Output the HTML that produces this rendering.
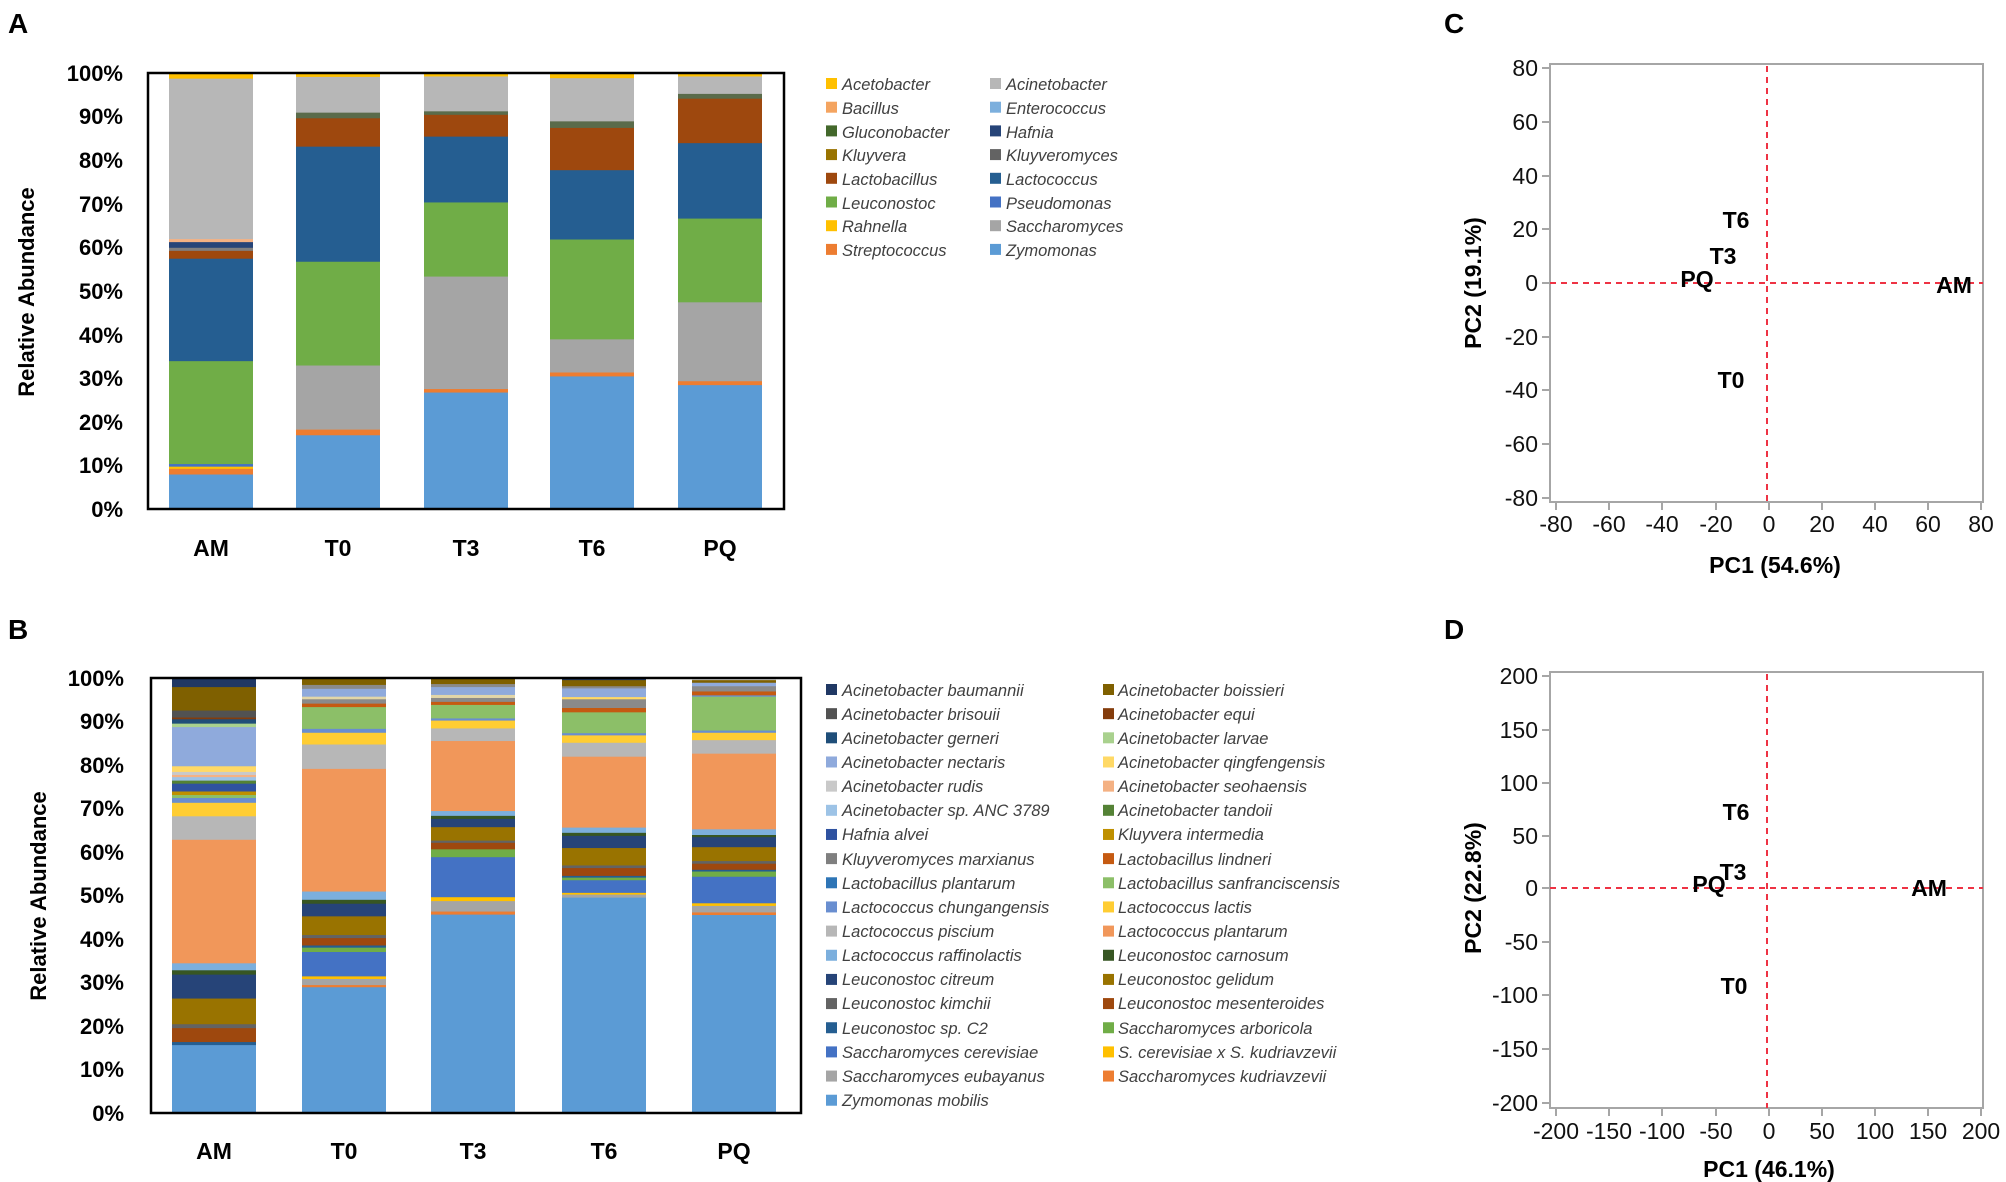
<!DOCTYPE html>
<html><head><meta charset="utf-8"><style>
html,body{margin:0;padding:0;background:#fff}
svg{display:block}
text{font-family:"Liberation Sans",sans-serif}
.b{font-weight:bold}
.lg{font-style:italic;fill:#404040;font-size:16.5px}
.tk{font-size:23px;fill:#111}
</style></head><body>
<svg id="s" width="2006" height="1182" viewBox="0 0 2006 1182" xmlns="http://www.w3.org/2000/svg">
<rect width="2006" height="1182" fill="#fff"/>
<g id="barsA"></g><g id="barsB"></g>
<!-- Panel A -->
<text x="8" y="33" class="b" font-size="28">A</text>
<rect x="148" y="73" width="636" height="436" fill="none" stroke="#000" stroke-width="2.5"/>
<g class="b" font-size="22" text-anchor="end">
<text x="123" y="517">0%</text><text x="123" y="473">10%</text><text x="123" y="430">20%</text><text x="123" y="386">30%</text><text x="123" y="343">40%</text><text x="123" y="299">50%</text><text x="123" y="255">60%</text><text x="123" y="212">70%</text><text x="123" y="168">80%</text><text x="123" y="124">90%</text><text x="123" y="81">100%</text>
</g>
<g class="b" font-size="23" text-anchor="middle">
<text x="211" y="556">AM</text><text x="338" y="556">T0</text><text x="466" y="556">T3</text><text x="592" y="556">T6</text><text x="720" y="556">PQ</text>
</g>
<text class="b" font-size="22" text-anchor="middle" transform="translate(34,292) rotate(-90)">Relative Abundance</text>
<!-- Legend A -->
<g id="legA"></g>
<!-- Panel B -->
<text x="8" y="639" class="b" font-size="28">B</text>
<rect x="151" y="678" width="650" height="435" fill="none" stroke="#000" stroke-width="2.5"/>
<g class="b" font-size="22" text-anchor="end">
<text x="124" y="1121">0%</text><text x="124" y="1077">10%</text><text x="124" y="1034">20%</text><text x="124" y="990">30%</text><text x="124" y="947">40%</text><text x="124" y="903">50%</text><text x="124" y="860">60%</text><text x="124" y="816">70%</text><text x="124" y="773">80%</text><text x="124" y="729">90%</text><text x="124" y="686">100%</text>
</g>
<g class="b" font-size="23" text-anchor="middle">
<text x="214" y="1159">AM</text><text x="344" y="1159">T0</text><text x="473" y="1159">T3</text><text x="604" y="1159">T6</text><text x="734" y="1159">PQ</text>
</g>
<text class="b" font-size="22" text-anchor="middle" transform="translate(46,896) rotate(-90)">Relative Abundance</text>
<g id="legB"></g>

<!-- Panel C -->
<text x="1444" y="33" class="b" font-size="28">C</text>
<rect x="1550" y="64" width="433" height="438" fill="none" stroke="#a6a6a6" stroke-width="2"/>
<g stroke="#a6a6a6" stroke-width="2">
<line x1="1542" y1="68" x2="1550" y2="68"/><line x1="1542" y1="122" x2="1550" y2="122"/><line x1="1542" y1="176" x2="1550" y2="176"/><line x1="1542" y1="229" x2="1550" y2="229"/><line x1="1542" y1="283" x2="1550" y2="283"/><line x1="1542" y1="337" x2="1550" y2="337"/><line x1="1542" y1="390" x2="1550" y2="390"/><line x1="1542" y1="444" x2="1550" y2="444"/><line x1="1542" y1="498" x2="1550" y2="498"/>
<line x1="1556" y1="502" x2="1556" y2="510"/><line x1="1609" y1="502" x2="1609" y2="510"/><line x1="1662" y1="502" x2="1662" y2="510"/><line x1="1716" y1="502" x2="1716" y2="510"/><line x1="1769" y1="502" x2="1769" y2="510"/><line x1="1822" y1="502" x2="1822" y2="510"/><line x1="1875" y1="502" x2="1875" y2="510"/><line x1="1928" y1="502" x2="1928" y2="510"/><line x1="1981" y1="502" x2="1981" y2="510"/>
</g>
<g class="tk" text-anchor="end">
<text x="1538" y="76">80</text><text x="1538" y="130">60</text><text x="1538" y="184">40</text><text x="1538" y="237">20</text><text x="1538" y="291">0</text><text x="1538" y="345">-20</text><text x="1538" y="398">-40</text><text x="1538" y="452">-60</text><text x="1538" y="506">-80</text>
</g>
<g class="tk" text-anchor="middle">
<text x="1556" y="532">-80</text><text x="1609" y="532">-60</text><text x="1662" y="532">-40</text><text x="1716" y="532">-20</text><text x="1769" y="532">0</text><text x="1822" y="532">20</text><text x="1875" y="532">40</text><text x="1928" y="532">60</text><text x="1981" y="532">80</text>
</g>
<g stroke="#ee3344" stroke-width="2" stroke-dasharray="6,5">
<line x1="1767" y1="66" x2="1767" y2="502"/><line x1="1550" y1="283" x2="1983" y2="283"/>
</g>
<g class="b" font-size="23" text-anchor="middle">
<text x="1736" y="228">T6</text><text x="1723" y="264">T3</text><text x="1697" y="287">PQ</text><text x="1954" y="293">AM</text><text x="1731" y="388">T0</text>
</g>
<text x="1775" y="573" class="b" font-size="23" text-anchor="middle">PC1 (54.6%)</text>
<text class="b" font-size="23" text-anchor="middle" transform="translate(1481,283) rotate(-90)">PC2 (19.1%)</text>

<!-- Panel D -->
<text x="1444" y="639" class="b" font-size="28">D</text>
<rect x="1550" y="672" width="433" height="436" fill="none" stroke="#a6a6a6" stroke-width="2"/>
<g stroke="#a6a6a6" stroke-width="2">
<line x1="1542" y1="676" x2="1550" y2="676"/><line x1="1542" y1="730" x2="1550" y2="730"/><line x1="1542" y1="783" x2="1550" y2="783"/><line x1="1542" y1="836" x2="1550" y2="836"/><line x1="1542" y1="888" x2="1550" y2="888"/><line x1="1542" y1="942" x2="1550" y2="942"/><line x1="1542" y1="995" x2="1550" y2="995"/><line x1="1542" y1="1049" x2="1550" y2="1049"/><line x1="1542" y1="1103" x2="1550" y2="1103"/>
<line x1="1556" y1="1108" x2="1556" y2="1116"/><line x1="1609" y1="1108" x2="1609" y2="1116"/><line x1="1662" y1="1108" x2="1662" y2="1116"/><line x1="1716" y1="1108" x2="1716" y2="1116"/><line x1="1769" y1="1108" x2="1769" y2="1116"/><line x1="1822" y1="1108" x2="1822" y2="1116"/><line x1="1875" y1="1108" x2="1875" y2="1116"/><line x1="1928" y1="1108" x2="1928" y2="1116"/><line x1="1981" y1="1108" x2="1981" y2="1116"/>
</g>
<g class="tk" text-anchor="end">
<text x="1538" y="684">200</text><text x="1538" y="738">150</text><text x="1538" y="791">100</text><text x="1538" y="844">50</text><text x="1538" y="896">0</text><text x="1538" y="950">-50</text><text x="1538" y="1003">-100</text><text x="1538" y="1057">-150</text><text x="1538" y="1111">-200</text>
</g>
<g class="tk" text-anchor="middle">
<text x="1556" y="1139">-200</text><text x="1609" y="1139">-150</text><text x="1662" y="1139">-100</text><text x="1716" y="1139">-50</text><text x="1769" y="1139">0</text><text x="1822" y="1139">50</text><text x="1875" y="1139">100</text><text x="1928" y="1139">150</text><text x="1981" y="1139">200</text>
</g>
<g stroke="#ee3344" stroke-width="2" stroke-dasharray="6,5">
<line x1="1767" y1="674" x2="1767" y2="1108"/><line x1="1550" y1="888" x2="1983" y2="888"/>
</g>
<g class="b" font-size="23" text-anchor="middle">
<text x="1736" y="820">T6</text><text x="1733" y="880">T3</text><text x="1709" y="892">PQ</text><text x="1929" y="896">AM</text><text x="1734" y="994">T0</text>
</g>
<text x="1769" y="1177" class="b" font-size="23" text-anchor="middle">PC1 (46.1%)</text>
<text class="b" font-size="23" text-anchor="middle" transform="translate(1481,888) rotate(-90)">PC2 (22.8%)</text>

<!-- Legends static text -->
<g class="lg">
<text x="842" y="90">Acetobacter</text><text x="1006" y="90">Acinetobacter</text>
<text x="842" y="114">Bacillus</text><text x="1006" y="114">Enterococcus</text>
<text x="842" y="138">Gluconobacter</text><text x="1006" y="138">Hafnia</text>
<text x="842" y="161">Kluyvera</text><text x="1006" y="161">Kluyveromyces</text>
<text x="842" y="185">Lactobacillus</text><text x="1006" y="185">Lactococcus</text>
<text x="842" y="209">Leuconostoc</text><text x="1006" y="209">Pseudomonas</text>
<text x="842" y="232">Rahnella</text><text x="1006" y="232">Saccharomyces</text>
<text x="842" y="256">Streptococcus</text><text x="1006" y="256">Zymomonas</text>
</g>
<g class="lg">
<text x="842" y="696">Acinetobacter baumannii</text><text x="1118" y="696">Acinetobacter boissieri</text>
<text x="842" y="720">Acinetobacter brisouii</text><text x="1118" y="720">Acinetobacter equi</text>
<text x="842" y="744">Acinetobacter gerneri</text><text x="1118" y="744">Acinetobacter larvae</text>
<text x="842" y="768">Acinetobacter nectaris</text><text x="1118" y="768">Acinetobacter qingfengensis</text>
<text x="842" y="792">Acinetobacter rudis</text><text x="1118" y="792">Acinetobacter seohaensis</text>
<text x="842" y="816">Acinetobacter sp. ANC 3789</text><text x="1118" y="816">Acinetobacter tandoii</text>
<text x="842" y="840">Hafnia alvei</text><text x="1118" y="840">Kluyvera intermedia</text>
<text x="842" y="865">Kluyveromyces marxianus</text><text x="1118" y="865">Lactobacillus lindneri</text>
<text x="842" y="889">Lactobacillus plantarum</text><text x="1118" y="889">Lactobacillus sanfranciscensis</text>
<text x="842" y="913">Lactococcus chungangensis</text><text x="1118" y="913">Lactococcus lactis</text>
<text x="842" y="937">Lactococcus piscium</text><text x="1118" y="937">Lactococcus plantarum</text>
<text x="842" y="961">Lactococcus raffinolactis</text><text x="1118" y="961">Leuconostoc carnosum</text>
<text x="842" y="985">Leuconostoc citreum</text><text x="1118" y="985">Leuconostoc gelidum</text>
<text x="842" y="1009">Leuconostoc kimchii</text><text x="1118" y="1009">Leuconostoc mesenteroides</text>
<text x="842" y="1034">Leuconostoc sp. C2</text><text x="1118" y="1034">Saccharomyces arboricola</text>
<text x="842" y="1058">Saccharomyces cerevisiae</text><text x="1118" y="1058">S. cerevisiae x S. kudriavzevii</text>
<text x="842" y="1082">Saccharomyces eubayanus</text><text x="1118" y="1082">Saccharomyces kudriavzevii</text>
<text x="842" y="1106">Zymomonas mobilis</text>
</g>
</svg>
<script>
(function(){
var NS="http://www.w3.org/2000/svg";
function R(g,x,y,w,h,c){var r=document.createElementNS(NS,"rect");r.setAttribute("x",x);r.setAttribute("y",y);r.setAttribute("width",w);r.setAttribute("height",h);r.setAttribute("fill",c);g.appendChild(r);}
// Legend squares A
var la=document.getElementById("legA");
var ca=[["#FFC000","#B7B7B7"],["#F4A460","#7CAFDD"],["#43682B","#264478"],["#997300","#636363"],["#9E480E","#255E91"],["#70AD47","#4472C4"],["#FFC000","#A5A5A5"],["#ED7D31","#5B9BD5"]];
ca.forEach(function(p,i){var y=78+i*23.7;R(la,826,y,11,11,p[0]);R(la,990,y,11,11,p[1]);});
var lb=document.getElementById("legB");
var c1=["#203864","#525252","#1F4E79","#8FAADC","#C9C9C9","#9DC3E6","#2F52A0","#7F7F7F","#2E75B6","#698ED0","#B7B7B7","#7CAFDD","#264478","#636363","#255E91","#4472C4","#A5A5A5","#5B9BD5"];
var c2=["#7F6000","#843C0C","#A9D18E","#FFD966","#F4B183","#548235","#BF9000","#C55A11","#8CBF68","#FFCD33","#F1975A","#375623","#997300","#9E480E","#70AD47","#FFC000","#ED7D31"];
c1.forEach(function(c,i){R(lb,826,684+i*24.16,11,11,c);});
c2.forEach(function(c,i){R(lb,1103,684+i*24.16,11,11,c);});
// Bars
function bars(gid,base,scale,xs,w,data){var g=document.getElementById(gid);
 data.forEach(function(col,k){var prev=0;col.forEach(function(s){var t=s[0],c=s[1];var y1=base-t*scale,y0=base-prev*scale;R(g,xs[k]-w/2,y1,w,y0-y1+0.4,c);prev=t;});});}
var Z="#5B9BD5",ST="#ED7D31",SA="#A5A5A5",LE="#70AD47",LC="#255E91",LB="#9E480E",AC="#B7B7B7",AO="#FFC000",SM="#5A6B4A";
bars("barsA",509,4.36,[211,338,466,592,720],84,[
 [[8,Z],[9.3,ST],[9.8,AO],[10.4,"#4472C4"],[34,LE],[57.5,LC],[59.3,LB],[60,"#7F7F7F"],[61.3,"#264478"],[62,"#F4B183"],[98.8,AC],[100,AO]],
 [[17,Z],[18.3,ST],[33,SA],[56.8,LE],[83.2,LC],[89.7,LB],[91,SM],[99.2,AC],[100,AO]],
 [[26.8,Z],[27.6,ST],[53.4,SA],[70.4,LE],[85.5,LC],[90.5,LB],[91.3,SM],[99.3,AC],[100,AO]],
 [[30.5,Z],[31.4,ST],[39,SA],[61.9,LE],[77.8,LC],[87.5,LB],[89,SM],[98.9,AC],[100,AO]],
 [[28.5,Z],[29.4,ST],[47.5,SA],[66.7,LE],[84,LC],[94.2,LB],[95.3,SM],[99.3,AC],[100,AO]]]);
var ZM="#5B9BD5",KU="#ED7D31",EU="#A5A5A5",SX="#FFC000",SC="#4472C4",AR="#70AD47",ME="#9E480E",KI="#636363",GE="#997300",CI="#264478",CA="#375623",RA="#7CAFDD",PL="#F1975A",PI="#B7B7B7",LA="#FFCD33",CH="#698ED0",SF="#8CBF68",NE="#8FAADC",BO="#7F6000",BA="#203864",C2="#255E91",MX="#8a8a8a";
bars("barsB",1113,4.35,[214,344,473,604,734],84,[
 [[15.7,ZM],[16.4,C2],[19.6,ME],[20.5,KI],[26.4,GE],[31.9,CI],[32.9,CA],[34.5,RA],[62.9,PL],[68.3,PI],[71.4,LA],[72.5,CH],[73.2,"#8CBF68"],[74,"#BF9000"],[75.8,"#2F52A0"],[76.5,"#548235"],[77.3,"#9DC3E6"],[77.8,"#F4B183"],[78.5,"#C9C9C9"],[79.8,"#FFD966"],[88.8,NE],[89.6,"#A9D18E"],[90.6,"#1F4E79"],[91,"#843C0C"],[92.6,"#525252"],[98,BO],[100,BA]],
 [[29,ZM],[29.5,KU],[30.9,EU],[31.5,SX],[37.1,SC],[38.1,AR],[38.6,C2],[40.3,ME],[41,KI],[45.3,GE],[48.2,CI],[49.1,CA],[51,RA],[79.2,PL],[84.8,PI],[87.5,LA],[88.4,CH],[93.4,SF],[94.2,"#C55A11"],[95.2,MX],[95.8,"#E2D6A8"],[97.6,NE],[98.5,MX],[100,BO]],
 [[45.7,ZM],[46.4,KU],[48.8,EU],[49.7,SX],[58.9,SC],[60.7,AR],[62.2,ME],[62.7,KI],[65.8,GE],[67.7,CI],[68.4,CA],[69.5,RA],[85.6,PL],[88.5,PI],[90.3,LA],[90.8,CH],[93.9,SF],[94.6,"#C55A11"],[95.5,MX],[96.2,"#E2D6A8"],[98,NE],[98.7,MX],[100,BO]],
 [[49.6,ZM],[50.3,EU],[50.7,SX],[53.6,SC],[54.2,AR],[54.6,C2],[56.4,ME],[57,KI],[61,GE],[63.8,CI],[64.5,CA],[65.7,RA],[82,PL],[85.2,PI],[86.9,LA],[87.4,CH],[92.2,SF],[93.2,"#C55A11"],[95.2,MX],[95.7,"#FFD966"],[97.7,NE],[98.2,MX],[99.6,BO],[100,BA]],
 [[45.6,ZM],[46.2,KU],[47.7,EU],[48.3,SX],[54.4,SC],[55.6,AR],[56,C2],[57.4,ME],[58,KI],[61.2,GE],[63.5,CI],[64,CA],[65.3,RA],[82.7,PL],[85.8,PI],[87.5,LA],[88,CH],[95.8,SF],[96.1,CH],[97,"#C55A11"],[98.2,MX],[99,NE],[99.6,BO],[100,"#D9D9D9"]]]);
})();
</script>
</body></html>
